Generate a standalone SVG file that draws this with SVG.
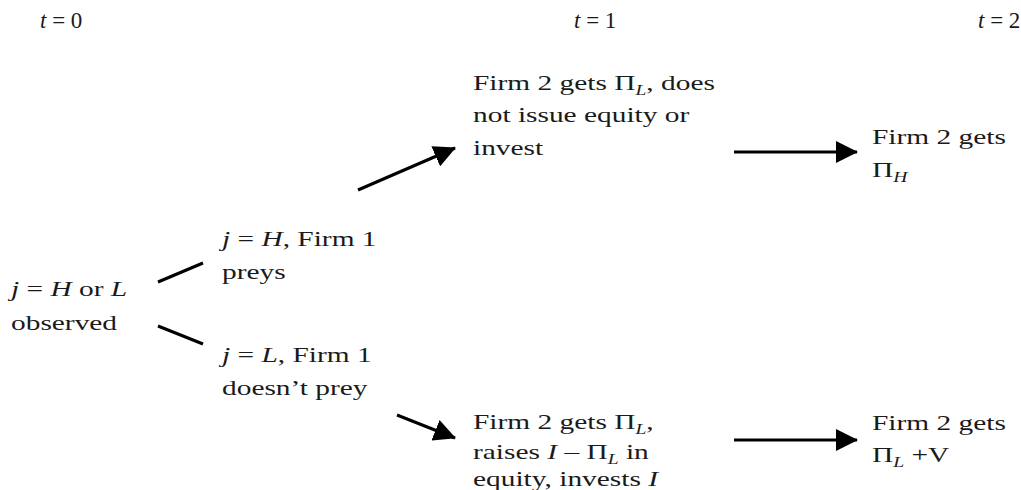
<svg xmlns="http://www.w3.org/2000/svg" width="1021" height="490" viewBox="0 0 1021 490">
<style>
text{font-family:"Liberation Serif","Times New Roman",serif;font-size:21px;fill:#1a1a1a}
.t{font-size:23px}
.i{font-style:italic}
.sub{font-style:italic;font-size:14px}
.c{stroke:#000;stroke-width:3;fill:none}
</style>
<defs>
<marker id="ah" markerUnits="userSpaceOnUse" markerWidth="22" markerHeight="22" refX="21" refY="11" orient="auto" viewBox="0 0 22 22">
<path d="M0,0 L22,11 L0,22 z" fill="#000"/>
</marker>
</defs>
<g id="time-labels">
<text class="t" x="40" y="28"><tspan class="i">t</tspan> = 0</text>
<text class="t" x="574" y="28"><tspan class="i">t</tspan> = 1</text>
<text class="t" x="978" y="28"><tspan class="i">t</tspan> = 2</text>
</g>
<g id="n-observed">
<text transform="translate(11,296) scale(1.4,1)"><tspan x="0" y="0"><tspan class="i">j</tspan> = <tspan class="i">H</tspan> or <tspan class="i">L</tspan></tspan><tspan x="0" y="34">observed</tspan></text>
</g>
<g id="n-prey">
<text transform="translate(222,246) scale(1.4,1)"><tspan x="0" y="0"><tspan class="i">j</tspan> = <tspan class="i">H</tspan>, Firm 1</tspan><tspan x="0" y="33">preys</tspan></text>
</g>
<g id="n-noprey">
<text transform="translate(222,362) scale(1.4,1)"><tspan x="0" y="0"><tspan class="i">j</tspan> = <tspan class="i">L</tspan>, Firm 1</tspan><tspan x="0" y="33">doesn’t prey</tspan></text>
</g>
<g id="n-noissue">
<text transform="translate(473,90) scale(1.4,1)"><tspan x="0" y="0">Firm 2 gets Π<tspan class="sub" dy="5">L</tspan><tspan dy="-5">, does</tspan></tspan><tspan x="0" y="32">not issue equity or</tspan><tspan x="0" y="65">invest</tspan></text>
</g>
<g id="n-gets-h">
<text transform="translate(872,144) scale(1.4,1)"><tspan x="0" y="0">Firm 2 gets</tspan><tspan x="0" y="33">Π<tspan class="sub" dy="5">H</tspan></tspan></text>
</g>
<g id="n-raises">
<text transform="translate(473,429) scale(1.4,1)"><tspan x="0" y="0">Firm 2 gets Π<tspan class="sub" dy="5">L</tspan><tspan dy="-5">,</tspan></tspan><tspan x="0" y="30">raises <tspan class="i">I</tspan> – Π<tspan class="sub" dy="5">L</tspan><tspan dy="-5"> in</tspan></tspan><tspan x="0" y="57">equity, invests <tspan class="i">I</tspan></tspan></text>
</g>
<g id="n-gets-lv">
<text transform="translate(872,430) scale(1.4,1)"><tspan x="0" y="0">Firm 2 gets</tspan><tspan x="0" y="32">Π<tspan class="sub" dy="5">L</tspan><tspan dy="-5"> +V</tspan></tspan></text>
</g>
<g id="connectors">
<line class="c" x1="158" y1="282" x2="203" y2="263"/>
<line class="c" x1="158" y1="326" x2="203" y2="344"/>
<line class="c" x1="358" y1="190" x2="455" y2="148" marker-end="url(#ah)"/>
<line class="c" x1="397" y1="415" x2="455" y2="438" marker-end="url(#ah)"/>
<line class="c" x1="734" y1="152" x2="857" y2="152" marker-end="url(#ah)"/>
<line class="c" x1="734" y1="440" x2="857" y2="440" marker-end="url(#ah)"/>
</g>
</svg>
